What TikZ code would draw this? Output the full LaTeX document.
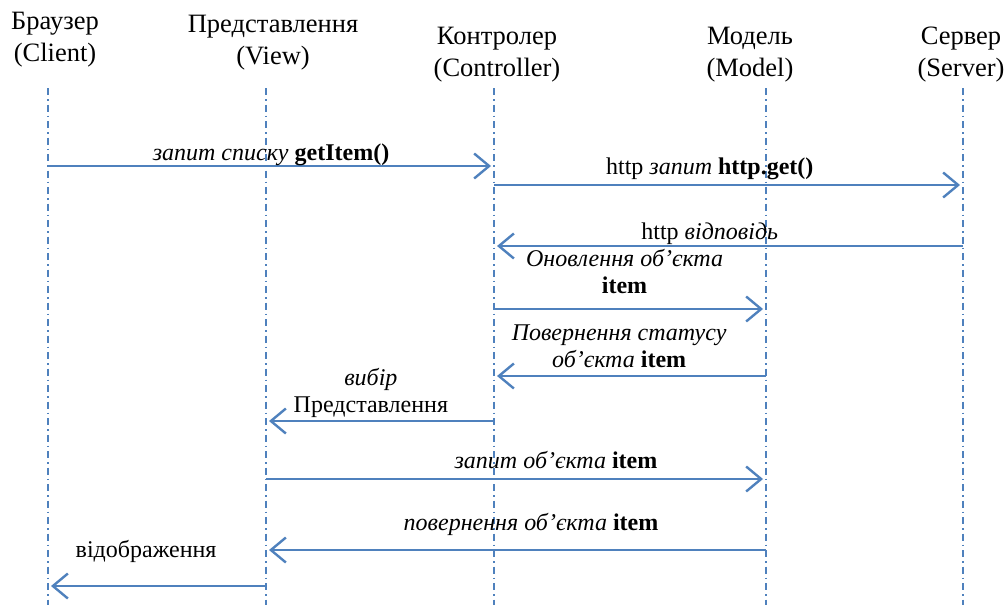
\documentclass[tikz,border=0pt]{standalone}
\usepackage{fontspec}
\setmainfont{Liberation Serif}
\usetikzlibrary{arrows.meta, positioning}
\definecolor{lineblue}{HTML}{4F81BD}

\begin{document}
\begin{tikzpicture}[x=1pt, y=-1pt, font=\fontsize{24}{31}\selectfont]
    \tikzstyle{actor}=[align=center, inner sep=0pt, anchor=base, font=\fontsize{26.5}{32}\selectfont]
    \tikzstyle{lifeline}=[draw=lineblue, line width=1.4pt, dash pattern=on 7pt off 4pt on 1.5pt off 4pt]
    \tikzstyle{msg}=[draw=lineblue, line width=2.4pt, -{Straight Barb[length=15pt, width=25pt, line width=2.4pt]}, shorten >=3pt]
    \tikzstyle{lbl}=[anchor=base, inner sep=0pt, align=center, font=\fontsize{24}{27}\selectfont]

    \useasboundingbox (0,0) rectangle (1006,605);

    % Actors
    \node[actor] (Br) at (55,61) {Браузер\\(Client)};
    \node[actor] (Vw) at (273,64) {Представлення\\(View)};
    \node[actor] (Ct) at (497,76) {Контролер\\(Controller)};
    \node[actor] (Md) at (750,76) {Модель\\(Model)};
    \node[actor] (Sv) at (961,76) {Сервер\\(Server)};

    % Points on the lifelines, one per message row
    \foreach \name/\x in {B/48, V/266, C/494, M/766, S/963} {
        \coordinate (\name-top) at (\x,88);
        \coordinate (\name-bot) at (\x,605);
        \foreach \row/\y in {1/166, 2/185, 3/246, 4/309, 5/376, 6/421, 7/479, 8/550, 9/586}
            \coordinate (\name-\row) at (\x,\y);
    }

    % Lifelines
    \foreach \name in {B,V,C,M,S}
        \draw[lifeline] (\name-top) -- (\name-bot);

    % Messages
    \draw[msg] (B-1) -- (C-1) node[lbl, pos=0.5, yshift=6pt] {\textit{запит списку} \textbf{getItem()}};
    \draw[msg] (C-2) -- (S-2) node[lbl, pos=0.46, yshift=11pt] {http \textit{запит} \textbf{http.get()}};
    \draw[msg] (S-3) -- (C-3) node[lbl, pos=0.54, yshift=7pt] {http \textit{відповідь}};
    \draw[msg] (C-4) -- (M-4) node[lbl, pos=0.48, yshift=16pt] {\textit{Оновлення об’єкта}\\\textbf{item}};
    \draw[msg] (M-5) -- (C-5) node[lbl, pos=0.54, yshift=9pt] {\textit{Повернення статусу}\\\textit{об’єкта} \textbf{item}};
    \draw[msg] (C-6) -- (V-6) node[lbl, pos=0.54, yshift=9pt] {\textit{вибір}\\Представлення};
    \draw[msg] (V-7) -- (M-7) node[lbl, pos=0.58, yshift=11pt] {\textit{запит об’єкта} \textbf{item}};
    \draw[msg] (M-8) -- (V-8) node[lbl, pos=0.47, yshift=20pt] {\textit{повернення об’єкта} \textbf{item}};
    \draw[msg] (V-9) -- (B-9) node[lbl, pos=0.55, yshift=29pt] {відображення};

\end{tikzpicture}
\end{document}
